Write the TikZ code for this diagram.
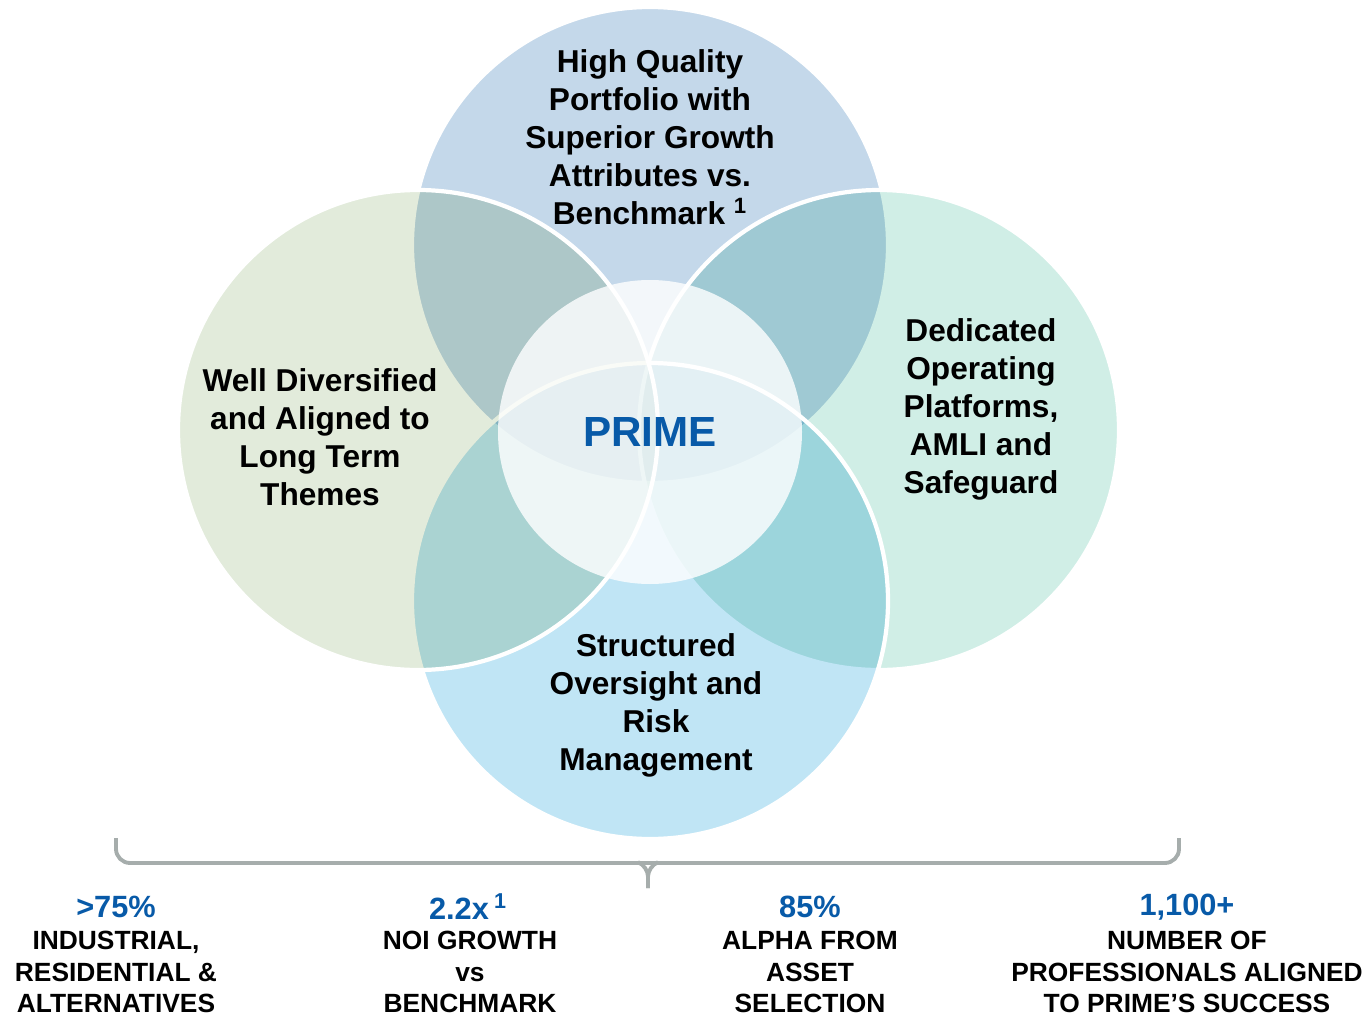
\documentclass[tikz,border=0pt]{standalone}
\usepackage{fontspec}
\setmainfont{Liberation Sans}

\definecolor{topblue}{RGB}{196,216,234}
\definecolor{leftgreen}{RGB}{226,235,219}
\definecolor{rightmint}{RGB}{208,238,230}
\definecolor{botblue}{RGB}{192,229,245}
\definecolor{primeblue}{RGB}{8,90,168}
\definecolor{bracegrey}{RGB}{166,173,172}

\tikzset{
  ring/.style={draw=white, line width=2.4pt},
  petal/.style={font=\fontsize{18}{21.6}\selectfont\bfseries, align=center, inner sep=0pt},
  stat/.style={font=\fontsize{17.5}{21}\selectfont\bfseries, text=primeblue, inner sep=0pt},
  statlabel/.style={font=\fontsize{15}{18.1}\selectfont\bfseries, align=center, inner sep=0pt},
}

\begin{document}
\begin{tikzpicture}[x=0.02cm, y=-0.02cm]
  \useasboundingbox (0,0) rectangle (1370,1017);
  \fill[white] (0,0) rectangle (1370,1017);

  % the four circles, each one multiplied over the ones below
  \foreach \cx/\cy/\r/\col in {650/245/238/topblue, 879/430/240/rightmint,
                               650/601/238/botblue, 418/430/240/leftgreen}{
    \fill[\col, blend mode=multiply] (\cx,\cy) circle (\r);
    \draw[ring] (\cx,\cy) circle (\r);
  }
  % centre disc
  \fill[white, fill opacity=0.8] (650,432) circle (152);

  \node[petal] (quality) at (650,137) {High Quality\\Portfolio with\\Superior Growth\\Attributes vs.\\Benchmark \textsuperscript{1}};
  \node[petal] (diversified) at (320,437) {Well Diversified\\and Aligned to\\Long Term\\Themes};
  \node[petal] (platforms) at (981,409) {Dedicated\\Operating\\Platforms,\\AMLI and\\Safeguard};
  \node[petal] (oversight) at (656,705) {Structured\\Oversight and\\Risk\\Management};
  \node[font=\fontsize{24}{28}\selectfont\bfseries, text=primeblue] (prime) at (650,432) {PRIME};

  % bracket under the circles
  \coordinate (bl) at (116,838);
  \coordinate (br) at (1179,838);
  \coordinate (tip) at (648,888);
  \draw[bracegrey, line width=2.2pt, rounded corners=8] (bl) -- (116,863) -- (1179,863) -- (br);
  \draw[bracegrey, line width=2.2pt, rounded corners=6] (640,863) -- (648,866) -- (tip);
  \draw[bracegrey, line width=2.2pt, rounded corners=6] (656,863) -- (648,866) -- (tip);

  % figures along the bottom
  \node[stat] (alloc) at (116,907) {>75\%};
  \node[statlabel] (allocl) at (116,972) {INDUSTRIAL,\\RESIDENTIAL \&\\ALTERNATIVES};
  \node[stat] (noi) at (468,907) {2.2x\,\textsuperscript{1}};
  \node[statlabel] (noil) at (470,972) {NOI GROWTH\\vs\\BENCHMARK};
  \node[stat] (alpha) at (810,907) {85\%};
  \node[statlabel] (alphal) at (810,972) {ALPHA FROM\\ASSET\\SELECTION};
  \node[stat] (staff) at (1187,907) {1,100+};
  \node[statlabel] (staffl) at (1187,972) {NUMBER OF\\PROFESSIONALS ALIGNED\\TO PRIME’S SUCCESS};
\end{tikzpicture}
\end{document}
